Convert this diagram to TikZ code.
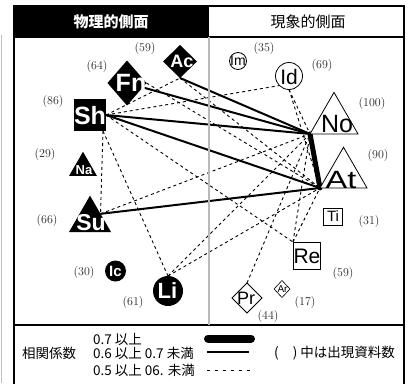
\documentclass[tikz,border=0pt]{standalone}
\usepackage{fontspec}
\newfontfamily\jp{Noto Sans CJK JP}
\newfontfamily\arl{Liberation Sans}
\usetikzlibrary{shapes.geometric,backgrounds}
\begin{document}
\begin{tikzpicture}[x=1pt,y=-1pt,
  shp/.style={inner sep=0pt,outer sep=0pt},
  blk/.style={shp,fill=black},
  wht/.style={shp,draw=black,fill=white,line width=0.8pt},
  tri/.style={regular polygon,regular polygon sides=3},
  lbw/.style={inner sep=0pt,text=white,font=\arl\bfseries\fontsize{#1}{#1}\selectfont},
  lbk/.style={inner sep=0pt,text=black,font=\arl\fontsize{#1}{#1}\selectfont},
  cnt/.style={inner sep=0pt,text=black!85,font=\fontsize{12}{12}\selectfont},
  strong/.style={line width=5pt,line cap=round},
  mid/.style={line width=2pt},
  weak/.style={line width=0.9pt,dash pattern=on 3pt off 3pt},
  jtxt/.style={inner sep=0pt,font=\jp\fontsize{13.5}{13.5}\selectfont}
]
\useasboundingbox (0,0) rectangle (411,383);
% frame
\fill (14,6) rectangle (209,37);
\draw[line width=1.5pt] (14,6) rectangle (404,392);
\draw[line width=1.2pt] (14,37) -- (404,37);
\draw[line width=1.2pt] (14,325) -- (404,325);
\draw[gray!55,line width=1.5pt] (209,37) -- (209,325);
\draw[gray!50,line width=1.5pt] (1.5,35) -- (1.5,383);
\node[text=white,font=\jp\bfseries\fontsize{15}{15}\selectfont,inner sep=0pt] (h1) at (111,22) {物理的側面};
\node[font=\jp\fontsize{15}{15}\selectfont,inner sep=0pt] (h2) at (308,22) {現象的側面};

% physical side (black)
\node[blk,diamond,minimum width=34pt,minimum height=33pt] (Ac) at (180,61.5) {};
\node[lbw=18] (Act) at (182,61.5) {Ac};
\node[blk,diamond,minimum width=39pt,minimum height=45pt] (Fn) at (127,83) {};
\node[lbw=25] (Fnt) at (131,82.5) {Fn};
\node[blk,rectangle,minimum width=32pt,minimum height=32pt] (Sh) at (90,115) {};
\node[lbw=25] (Sht) at (90,115.5) {Sh};
\node[blk,tri,minimum size=32.3pt] (Na) at (83,167.9) {};
\node[lbw=13] (Nat) at (84,170.5) {Na};
\node[blk,tri,minimum size=48.5pt] (Su) at (90,219.9) {};
\node[lbw=23] (Sut) at (91,223) {Su};
\node[blk,circle,minimum size=21pt] (Ic) at (115.5,271) {};
\node[lbw=15] (Ict) at (115.5,271) {Ic};
\node[blk,circle,minimum size=30pt] (Li) at (168,291) {};
\node[lbw=22] (Lit) at (167.5,290.5) {Li};

% phenomenal side (white)
\node[wht,circle,minimum size=17pt] (Im) at (238,61) {};
\node[lbk=14] (Imt) at (238,61) {Im};
\node[wht,circle,minimum size=27pt] (Id) at (289,76) {};
\node[lbk=21] (Idt) at (289,77) {Id};
\node[wht,tri,minimum size=55.4pt] (No) at (334,120.1) {};
\node[lbk=25] (Not) at (337,124) {No};
\node[wht,tri,minimum size=54.3pt] (At) at (343.5,174.4) {};
\node[lbk=25] (Att) at (341,179.5) {\scalebox{1.3}[1]{At}};
\node[wht,rectangle,minimum width=19pt,minimum height=17pt] (Ti) at (332.5,216.5) {};
\node[lbk=15] (Tit) at (333,216.5) {Ti};
\node[wht,rectangle,minimum width=27pt,minimum height=27pt] (Re) at (306.5,255.5) {};
\node[lbk=21] (Ret) at (307,256) {Re};
\node[wht,diamond,minimum width=30pt,minimum height=30pt] (Pr) at (247,298) {};
\node[lbk=18] (Prt) at (246,298.5) {Pr};
\node[wht,diamond,minimum width=16pt,minimum height=17pt,line width=0.6pt] (Ar) at (282,289) {};
\node[lbk=10] (Art) at (282.5,289.5) {Ar};

% counts
\node[cnt] (cAc) at (145,49) {(59)};
\node[cnt] (cFn) at (97,67) {(64)};
\node[cnt] (cSh) at (53,102) {(86)};
\node[cnt] (cNa) at (45,155) {(29)};
\node[cnt] (cSu) at (47,220) {(66)};
\node[cnt] (cIc) at (84,272) {(30)};
\node[cnt] (cLi) at (133,302) {(61)};
\node[cnt] (cIm) at (264,49) {(35)};
\node[cnt] (cId) at (322,66) {(69)};
\node[cnt] (cNo) at (372,104) {(100)};
\node[cnt] (cAt) at (378,156) {(90)};
\node[cnt] (cTi) at (369,221) {(31)};
\node[cnt] (cRe) at (343,273) {(59)};
\node[cnt] (cAr) at (305,302) {(17)};
\node[cnt] (cPr) at (268,316) {(44)};

% connectors
\begin{pgfonlayer}{background}
\draw[weak] (Sh.east) -- (Ac.south);
\draw[weak] (Sh.east) -- (Id.south west);
\draw[weak] ([xshift=-3pt]Sh.south east) -- (Su.side 3);
\draw[weak] ([xshift=-3pt]Sh.south east) -- (Li.north);
\draw[weak] (Sh.east) -- (Re.north west);
\draw[weak] (Fn.east) -- (At.corner 2);
\draw[weak] (Ac.south) -- (At.corner 2);
\draw[weak] (Id.south) -- (No.corner 2);
\draw[weak] (Id.south) -- (At.corner 2);
\draw[weak] (Su.side 3) -- (No.corner 2);
\draw[weak] (Li.north) -- (No.corner 2);
\draw[weak] (Li.north) -- (At.corner 2);
\draw[weak] (Pr.north) -- (No.corner 2);
\draw[weak] (Re.north west) -- (At.corner 2);
\draw[weak] (Re.north west) -- (No.corner 2);
\draw[strong] (No.corner 2) -- (At.corner 2);
\draw[mid] (Ac.south) -- (No.corner 2);
\draw[mid] (Fn.center) -- (No.corner 2);
\draw[mid] (Sh.east) -- (No.corner 2);
\draw[mid] (Sh.east) -- (At.corner 2);
\draw[mid] (Su.side 3) -- (At.corner 2);
\end{pgfonlayer}

% legend
\node[jtxt,anchor=west] (l0) at (22,353) {相関係数};
\node[jtxt,anchor=west] (l1) at (93,339) {0.7 以上};
\node[jtxt,anchor=west] (l2) at (93,353) {0.6 以上 0.7 未満};
\node[jtxt,anchor=west] (l3) at (93,370) {0.5 以上 06. 未満};
\node[jtxt,anchor=west] (l4) at (274,353) {(\hspace{14pt}) 中は出現資料数};
\coordinate (a1) at (208,338.5);
\coordinate (b1) at (251,338.5);
\coordinate (a2) at (207,352);
\coordinate (b2) at (249,352);
\coordinate (a3) at (207,370);
\coordinate (b3) at (253,370);
\draw[line width=8pt,line cap=round] (a1) -- (b1);
\draw[mid] (a2) -- (b2);
\draw[line width=0.9pt,dash pattern=on 3pt off 5pt] (a3) -- (b3);
\end{tikzpicture}
\end{document}
